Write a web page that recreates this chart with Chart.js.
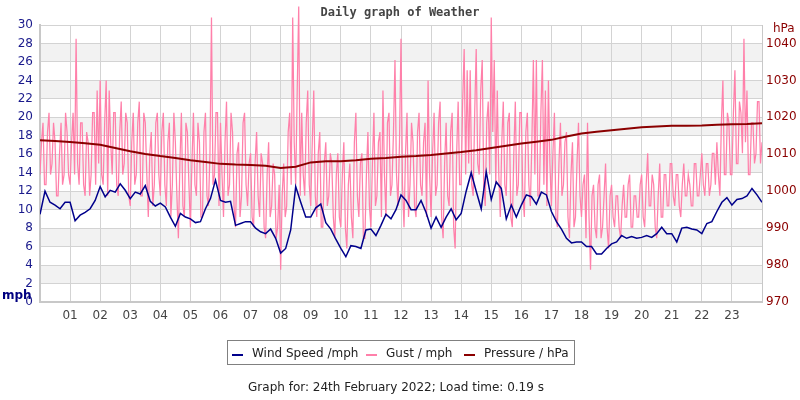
<!DOCTYPE html>
<html>
<head>
<meta charset="utf-8">
<script src="https://cdn.jsdelivr.net/npm/chart.js@4"></script>
<style>
  body { margin: 0; background: #fff; }
  #wx { display: block; }
</style>
</head>
<body>
<canvas id="wx" width="800" height="400"></canvas>
<script>
// readings for 24th Feb 2022
const windStepMin = 10;   // wind speed every 10 min
const gustStepMin = 3;    // gust every 3 min
const pressStepMin = 30;  // pressure every 30 min

const windSpeed = [
  9.5, 12.0, 10.8, 10.5, 10.1, 10.8, 10.8, 8.8, 9.4, 9.7, 10.1, 11.0,
  12.5, 11.4, 12.1, 11.9, 12.8, 12.1, 11.2, 11.9, 11.7, 12.6, 10.9, 10.4,
  10.7, 10.3, 9.2, 8.2, 9.6, 9.2, 9.0, 8.6, 8.7, 10.1, 11.2, 13.2,
  11.0, 10.8, 10.9, 8.3, 8.5, 8.7, 8.7, 8.0, 7.6, 7.4, 7.9, 6.9,
  5.3, 5.8, 7.8, 12.5, 10.8, 9.2, 9.2, 10.2, 10.6, 8.6, 7.9, 6.8,
  5.8, 4.9, 6.1, 6.0, 5.8, 7.8, 7.9, 7.2, 8.3, 9.5, 9.0, 10.0,
  11.6, 11.0, 10.0, 10.0, 11.0, 9.7, 8.0, 9.2, 8.1, 9.2, 10.1, 8.9,
  9.6, 12.0, 14.0, 12.0, 10.1, 14.1, 11.1, 13.0, 12.3, 9.0, 10.5, 9.2,
  10.5, 11.6, 11.4, 10.6, 11.9, 11.6, 9.8, 8.7, 7.9, 6.9, 6.4, 6.5,
  6.5, 6.0, 6.0, 5.2, 5.2, 5.8, 6.3, 6.5, 7.2, 6.9, 7.1, 6.9,
  7.0, 7.2, 7.0, 7.4, 8.1, 7.4, 7.4, 6.5, 8.0, 8.1, 7.9, 7.8,
  7.4, 8.5, 8.7, 9.8, 10.8, 11.3, 10.5, 11.1, 11.2, 11.5, 12.3, 11.6,
  10.8
];

// one row per hour
const gust = [
  13.8, 17.3, 19.4, 12.7, 12.7, 18.4, 20.5, 13.8, 15.0, 19.4, 17.3, 11.5, 11.5, 16.1, 19.4, 12.7, 13.8, 20.5, 18.4, 13.8,
  12.7, 17.3, 20.5, 13.8, 28.5, 15.0, 12.7, 19.4, 19.4, 12.7, 11.5, 18.4, 17.3, 11.5, 13.8, 20.5, 20.5, 12.7, 22.9, 15.0,
  24.0, 13.8, 12.7, 19.4, 24.0, 11.5, 22.9, 17.3, 13.8, 20.5, 20.5, 12.7, 11.5, 18.4, 21.7, 13.8, 15.0, 20.5, 19.4, 11.5,
  10.4, 17.3, 20.5, 12.7, 13.8, 19.4, 21.7, 11.5, 11.5, 20.5, 19.4, 13.8, 9.2, 16.1, 18.4, 10.4, 12.7, 19.4, 20.5, 13.8,
  11.5, 18.4, 20.5, 12.7, 10.4, 17.3, 19.4, 9.2, 12.7, 20.5, 17.3, 11.5, 6.9, 15.0, 20.5, 10.4, 9.2, 19.4, 18.4, 12.7,
  8.1, 15.0, 20.5, 12.7, 11.5, 19.4, 17.3, 9.2, 9.2, 18.4, 20.5, 11.5, 10.4, 16.1, 30.8, 12.7, 13.8, 20.5, 20.5, 10.4,
  19.4, 13.8, 9.2, 17.3, 21.7, 11.5, 12.7, 20.5, 18.4, 10.4, 8.1, 16.1, 17.3, 9.2, 11.5, 19.4, 20.5, 12.7, 10.4, 15.0,
  16.1, 9.2, 8.1, 15.0, 18.4, 11.5, 9.2, 16.1, 15.0, 8.1, 6.9, 13.8, 17.3, 9.2, 10.4, 15.0, 13.8, 6.9, 8.1, 12.7,
  3.5, 11.5, 15.0, 9.2, 10.4, 18.4, 20.5, 12.7, 30.8, 17.3, 12.7, 22.9, 32.0, 11.5, 20.5, 13.8, 11.5, 19.4, 22.9, 12.7,
  10.4, 17.3, 22.9, 11.5, 9.2, 16.1, 18.4, 8.1, 8.1, 15.0, 17.3, 10.4, 11.5, 16.1, 15.0, 9.2, 6.9, 13.8, 16.1, 9.2,
  8.1, 13.8, 17.3, 8.1, 5.8, 12.7, 15.0, 9.2, 6.9, 17.3, 20.5, 11.5, 9.2, 15.0, 16.1, 6.9, 6.9, 13.8, 18.4, 10.4,
  8.1, 15.0, 20.5, 10.4, 11.5, 17.3, 18.4, 9.2, 22.9, 13.8, 9.2, 19.4, 20.5, 11.5, 12.7, 18.4, 26.2, 13.8, 10.4, 17.3,
  28.5, 12.7, 8.1, 16.1, 20.5, 9.2, 12.7, 19.4, 17.3, 10.4, 9.2, 18.4, 20.5, 12.7, 11.5, 17.3, 19.4, 9.2, 24.0, 13.8,
  9.2, 16.1, 20.5, 11.5, 12.7, 19.4, 21.7, 9.2, 6.9, 15.0, 19.4, 11.5, 10.4, 18.4, 20.5, 8.1, 5.8, 16.1, 21.7, 12.7,
  12.7, 21.7, 27.4, 13.8, 25.1, 15.0, 25.1, 12.7, 11.5, 20.5, 27.4, 15.0, 13.8, 22.9, 26.2, 12.7, 10.4, 19.4, 21.7, 13.8,
  30.8, 18.4, 26.2, 12.7, 22.9, 13.8, 9.2, 17.3, 21.7, 12.7, 11.5, 19.4, 20.5, 9.2, 8.1, 16.1, 21.7, 11.5, 12.7, 20.5,
  20.5, 11.5, 9.2, 18.4, 20.5, 12.7, 10.4, 17.3, 26.2, 13.8, 26.2, 11.5, 11.5, 20.5, 26.2, 12.7, 22.9, 10.4, 24.0, 15.0,
  10.4, 16.1, 20.5, 9.2, 8.1, 15.0, 19.4, 11.5, 12.7, 17.3, 18.4, 9.2, 6.9, 13.8, 17.3, 8.1, 9.2, 15.0, 19.4, 11.5,
  9.2, 12.7, 13.8, 6.9, 19.4, 9.2, 3.5, 11.5, 12.7, 8.1, 6.9, 12.7, 13.8, 6.9, 8.1, 11.5, 15.0, 8.1, 5.8, 11.5,
  12.7, 9.2, 8.1, 11.5, 11.5, 8.1, 6.9, 10.4, 12.7, 9.2, 9.2, 12.7, 13.8, 8.1, 8.1, 11.5, 11.5, 9.2, 9.2, 12.7,
  13.8, 9.2, 8.1, 12.7, 16.1, 10.4, 10.4, 13.8, 12.7, 8.1, 6.9, 11.5, 15.0, 9.2, 9.2, 13.8, 13.8, 10.4, 10.4, 15.0,
  15.0, 11.5, 10.4, 13.8, 13.8, 10.4, 9.2, 12.7, 15.0, 11.5, 11.5, 13.8, 12.7, 10.4, 10.4, 15.0, 15.0, 11.5, 11.5, 13.8,
  16.1, 12.7, 11.5, 15.0, 15.0, 11.5, 12.7, 16.1, 16.1, 12.7, 17.3, 13.8, 11.5, 19.4, 24.0, 13.8, 13.8, 20.5, 19.4, 13.8,
  13.8, 20.5, 25.1, 15.0, 15.0, 21.7, 20.5, 16.1, 28.5, 17.3, 22.9, 13.8, 13.8, 19.4, 19.4, 15.0, 16.1, 21.7, 21.7, 15.0,
  17.3
];

const pressure = [
  1013.8, 1013.6, 1013.3, 1013.0, 1012.6, 1011.7, 1010.8, 1010.1,
  1009.5, 1009.0, 1008.4, 1007.9, 1007.4, 1007.2, 1007.1, 1006.9,
  1006.3, 1006.6, 1007.8, 1008.1, 1008.1, 1008.4, 1008.8, 1009.0,
  1009.3, 1009.5, 1009.8, 1010.2, 1010.6, 1011.1, 1011.7, 1012.3,
  1012.9, 1013.4, 1013.9, 1014.8, 1015.6, 1016.1, 1016.5, 1016.9,
  1017.3, 1017.5, 1017.7, 1017.7, 1017.8, 1018.0, 1018.1, 1018.2,
  1018.4
];

const hourTicks = ['01','02','03','04','05','06','07','08','09','10','11','12',
  '13','14','15','16','17','18','19','20','21','22','23'];

const chartTitle = 'Daily graph of Weather';
const footerText = 'Graph for: 24th February 2022; Load time: 0.19 s';

function toPoints(values, stepMin) {
    return values.map((v, i) => ({ x: i * stepMin / 60, y: v }));
}

Chart.defaults.font.family = "'DejaVu Sans', sans-serif";
Chart.defaults.font.size = 12;

// grey/white stripes behind the grid
const bandsPlugin = {
    id: 'bands',
    beforeDraw(chart) {
        const { ctx, chartArea, scales } = chart;
        const y = scales.y;
        ctx.save();
        ctx.fillStyle = '#f2f2f2';
        for (let v = 2; v < 30; v += 4) {
            const top = y.getPixelForValue(v + 2);
            const bot = y.getPixelForValue(v);
            ctx.fillRect(chartArea.left, top, chartArea.right - chartArea.left, bot - top);
        }
        ctx.restore();
    }
};

// title, unit labels, boxed legend and footer
const textPlugin = {
    id: 'texts',
    afterDraw(chart) {
        const ctx = chart.ctx;
        ctx.save();
        ctx.textBaseline = 'middle';

        ctx.fillStyle = '#444';
        ctx.font = "bold 12px 'DejaVu Sans Mono'";
        ctx.textAlign = 'center';
        ctx.fillText(chartTitle, 400, 13);

        ctx.textAlign = 'left';
        ctx.font = "bold 12px 'DejaVu Sans'";
        ctx.fillStyle = '#000080';
        ctx.fillText('mph', 2, 296);
        ctx.font = "12px 'DejaVu Sans'";
        ctx.fillStyle = '#8b0000';
        ctx.fillText('hPa', 773, 29);

        // legend
        ctx.strokeStyle = '#808080';
        ctx.lineWidth = 1;
        ctx.strokeRect(227.5, 340.5, 347, 24);
        const items = [
            { ds: 0, x: 232 },
            { ds: 1, x: 366 },
            { ds: 2, x: 464 }
        ];
        items.forEach(it => {
            const ds = chart.data.datasets[it.ds];
            ctx.fillStyle = ds.borderColor;
            ctx.fillRect(it.x, 354, 11, 2);
            ctx.fillStyle = '#222';
            ctx.fillText(ds.label, it.x + 20, 353.5);
        });

        ctx.textAlign = 'center';
        ctx.fillStyle = '#222';
        ctx.fillText(footerText, 396, 388);
        ctx.restore();
    }
};

new Chart(document.getElementById('wx'), {
    type: 'line',
    data: {
        datasets: [{
            label: 'Wind Speed /mph',
            data: toPoints(windSpeed, windStepMin),
            yAxisID: 'y',
            borderColor: '#00008b',
            borderWidth: 1.5,
            pointRadius: 0,
            tension: 0,
            order: 0
        }, {
            label: 'Gust / mph',
            data: toPoints(gust, gustStepMin),
            yAxisID: 'y',
            borderColor: '#ff80aa',
            borderWidth: 1.25,
            pointRadius: 0,
            tension: 0,
            clip: { left: 0, top: false, right: 0, bottom: 0 },
            order: 2
        }, {
            label: 'Pressure / hPa',
            data: toPoints(pressure, pressStepMin),
            yAxisID: 'y1',
            borderColor: '#8b0000',
            borderWidth: 2,
            pointRadius: 0,
            tension: 0,
            order: 1
        }]
    },
    options: {
        responsive: false,
        animation: false,
        devicePixelRatio: 1,
        layout: { padding: { top: 25, left: 0, right: 0, bottom: 0 } },
        plugins: {
            legend: { display: false },
            tooltip: { enabled: false }
        },
        scales: {
            x: {
                type: 'linear',
                min: 0,
                max: 24,
                afterFit: s => { s.height = 98; },
                grid: { color: '#d3d3d3', drawTicks: false },
                border: { color: '#c8c8c8', width: 2 },
                ticks: {
                    stepSize: 1,
                    autoSkip: false,
                    maxRotation: 0,
                    padding: 7,
                    color: '#444',
                    callback: v => (v >= 1 && v <= 23) ? hourTicks[v - 1] : ''
                }
            },
            y: {
                position: 'left',
                min: 0,
                max: 30,
                afterFit: s => { s.width = 40; },
                grid: { color: '#d3d3d3', drawTicks: false },
                border: { color: '#c8c8c8', width: 2 },
                ticks: { stepSize: 2, padding: 7, color: '#1a1a8c' }
            },
            y1: {
                position: 'right',
                min: 970,
                max: 1045,
                afterFit: s => { s.width = 38; },
                afterBuildTicks: s => { s.ticks = s.ticks.filter(t => t.value % 10 === 0); },
                grid: { drawOnChartArea: false, drawTicks: false },
                border: { color: '#c8c8c8', width: 1 },
                ticks: { stepSize: 10, padding: 4, color: '#8b0000', callback: v => String(v) }
            }
        }
    },
    plugins: [bandsPlugin, textPlugin]
});
</script>
</body>
</html>
